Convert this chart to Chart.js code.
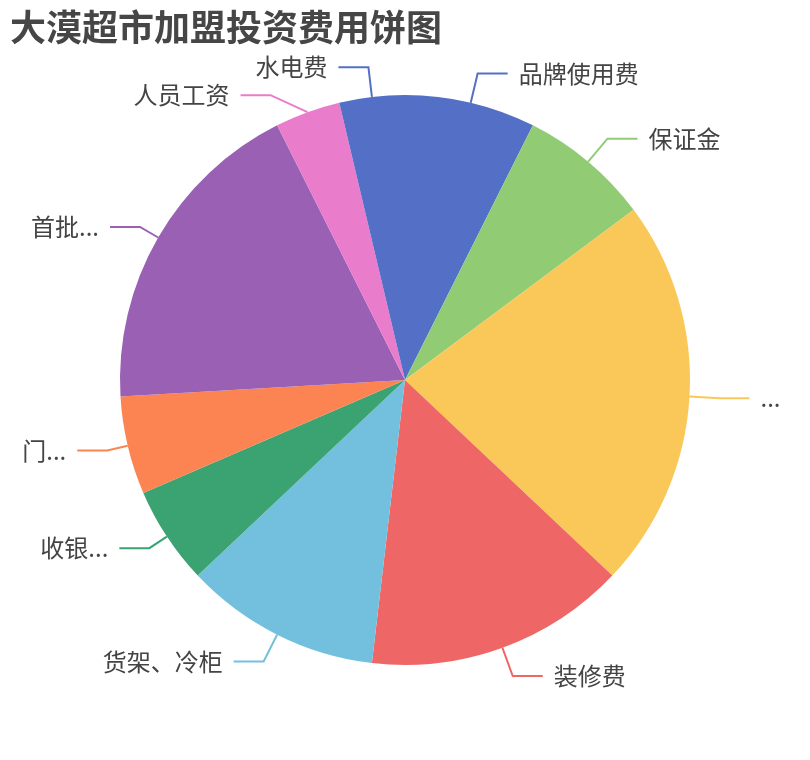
<!DOCTYPE html>
<html>
<head>
<meta charset="utf-8">
<script src="https://cdn.jsdelivr.net/npm/chart.js@4.4.1/dist/chart.umd.min.js"></script>
<style>
  html, body { margin: 0; padding: 0; background: #fff; }
  canvas { display: block; }
</style>
</head>
<body>
<canvas id="pie" width="810" height="760"></canvas>
<script>
const chartTitle = '大漠超市加盟投资费用饼图';
// names as they show on the chart (the long ones got cut to "...")
const categories = ['品牌使用费', '保证金', '...', '装修费', '货架、冷柜', '收银...', '门...', '首批...', '人员工资', '水电费'];
// 万元
const amounts = [2, 2, 6, 4, 3, 1.5, 1.5, 5, 1, 1];
const sliceColors = ['#5470c6', '#91cc75', '#fac858', '#ee6666', '#73c0de', '#3ba272', '#fc8452', '#9a60b4', '#ea7ccc', '#5470c6'];

const labelFont = '24px "Noto Sans CJK SC", "Noto Sans", sans-serif';

// title + outside labels with a bent leader line
const pieLabels = {
    id: 'pieLabels',
    afterDraw(chart) {
        const ctx = chart.ctx;
        const arcs = chart.getDatasetMeta(0).data;

        const items = arcs.map((arc, i) => {
            const p = arc.getProps(['x', 'y', 'startAngle', 'endAngle', 'outerRadius']);
            const mid = (p.startAngle + p.endAngle) / 2;
            const cos = Math.cos(mid), sin = Math.sin(mid);
            const right = cos >= 0;
            // cut names on the left sit a bit closer to the pie
            const cut = !right && categories[i].endsWith('...');
            const R = p.outerRadius + (cut ? 21 : 30);
            return {
                i, cx: p.x, cy: p.y, R, right,
                x0: p.x + cos * p.outerRadius, y0: p.y + sin * p.outerRadius,
                x1: p.x + cos * R, y1: p.y + sin * R
            };
        });

        // push labels apart on each side so they don't overlap
        [true, false].forEach(side => {
            const list = items.filter(d => d.right === side).sort((a, b) => a.y1 - b.y1);
            for (let k = 1; k < list.length; k++) {
                const prev = list[k - 1], d = list[k];
                if (d.y1 < prev.y1 + 28) {
                    d.y1 = prev.y1 + 28;
                    const dy = d.y1 - d.cy;
                    if (Math.abs(dy) < d.R) {
                        d.x1 = d.cx + (side ? 1 : -1) * Math.sqrt(d.R * d.R - dy * dy);
                    }
                }
            }
        });

        ctx.save();
        items.forEach(d => {
            const dir = d.right ? 1 : -1;
            const x2 = d.x1 + dir * 30;
            ctx.strokeStyle = sliceColors[d.i];
            ctx.lineWidth = 2;
            ctx.beginPath();
            ctx.moveTo(d.x0, d.y0);
            ctx.lineTo(d.x1, d.y1);
            ctx.lineTo(x2, d.y1);
            ctx.stroke();

            ctx.fillStyle = '#444';
            ctx.font = labelFont;
            ctx.textBaseline = 'middle';
            ctx.textAlign = d.right ? 'left' : 'right';
            ctx.fillText(categories[d.i], x2 + dir * 11, d.y1);
        });

        ctx.fillStyle = '#464646';
        ctx.font = 'bold 36px "Noto Sans CJK SC", "Noto Sans", sans-serif';
        ctx.textAlign = 'left';
        ctx.textBaseline = 'middle';
        ctx.fillText(chartTitle, 10, 27);
        ctx.restore();
    }
};

const data = {
    labels: categories,
    datasets: [{
        data: amounts,
        backgroundColor: sliceColors,
        borderWidth: 0,
        hoverOffset: 0
    }]
};

const config = {
    type: 'pie',
    data: data,
    options: {
        responsive: false,
        animation: false,
        layout: { padding: { top: 95, bottom: 95, left: 120, right: 120 } },
        plugins: {
            legend: { display: false },
            tooltip: { enabled: false }
        }
    },
    plugins: [pieLabels]
};

new Chart(document.getElementById('pie'), config);
</script>
</body>
</html>
